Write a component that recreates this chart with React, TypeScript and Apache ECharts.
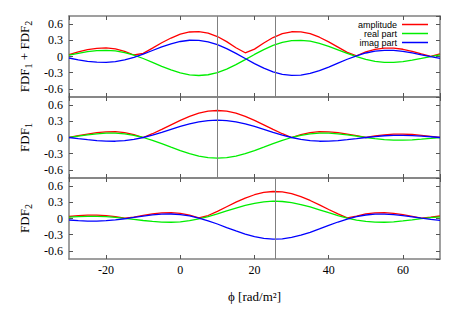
import React, { useEffect, useRef } from 'react';
import * as echarts from 'echarts';

// Faraday depth grid (rad/m^2)
const PHI = [-30, -27.5, -25, -22.5, -20, -17.5, -15, -12.5, -10, -7.5, -5, -2.5, 0, 2.5, 5, 7.5, 10, 12.5, 15, 17.5, 20, 22.5, 25, 27.5, 30, 32.5, 35, 37.5, 40, 42.5, 45, 47.5, 50, 52.5, 55, 57.5, 60, 62.5, 65, 67.5, 70];

// Panel 1: FDF1 + FDF2
const SUM_AMP = [0.037, 0.086, 0.126, 0.152, 0.158, 0.141, 0.096, 0.028, 0.058, 0.155, 0.254, 0.342, 0.413, 0.454, 0.462, 0.434, 0.370, 0.276, 0.162, 0.069, 0.137, 0.251, 0.351, 0.422, 0.458, 0.457, 0.423, 0.357, 0.272, 0.174, 0.076, 0.014, 0.085, 0.132, 0.156, 0.156, 0.134, 0.095, 0.047, 0.004, 0.047];
const SUM_RE = [0.024, 0.059, 0.089, 0.109, 0.115, 0.104, 0.073, 0.024, -0.037, -0.108, -0.182, -0.249, -0.305, -0.340, -0.352, -0.338, -0.298, -0.233, -0.151, -0.058, 0.038, 0.128, 0.205, 0.262, 0.294, 0.300, 0.283, 0.243, 0.188, 0.123, 0.057, -0.004, -0.054, -0.089, -0.107, -0.108, -0.094, -0.068, -0.035, -0.001, 0.030];
const SUM_IM = [-0.028, -0.062, -0.089, -0.106, -0.109, -0.095, -0.063, -0.015, 0.045, 0.111, 0.177, 0.235, 0.278, 0.301, 0.299, 0.272, 0.220, 0.147, 0.059, -0.037, -0.132, -0.216, -0.285, -0.331, -0.351, -0.345, -0.314, -0.262, -0.196, -0.123, -0.051, 0.013, 0.065, 0.098, 0.114, 0.112, 0.095, 0.066, 0.031, -0.004, -0.036];

// Panel 2: FDF1
const F1_AMP = [0, 0.033, 0.064, 0.091, 0.106, 0.107, 0.090, 0.054, 0, 0.070, 0.150, 0.235, 0.318, 0.392, 0.450, 0.487, 0.500, 0.487, 0.450, 0.392, 0.318, 0.235, 0.150, 0.070, 0, 0.054, 0.090, 0.107, 0.106, 0.091, 0.064, 0.033, 0, 0.029, 0.050, 0.062, 0.064, 0.056, 0.041, 0.021, 0];
const F1_RE = [0, 0.025, 0.049, 0.069, 0.081, 0.082, 0.069, 0.041, 0, -0.053, -0.115, -0.180, -0.244, -0.300, -0.344, -0.373, -0.383, -0.373, -0.344, -0.300, -0.244, -0.180, -0.115, -0.053, 0, 0.041, 0.069, 0.082, 0.081, 0.069, 0.049, 0.025, 0, -0.022, -0.038, -0.047, -0.049, -0.043, -0.031, -0.016, 0];
const F1_IM = [0, -0.021, -0.041, -0.058, -0.068, -0.069, -0.058, -0.035, 0, 0.045, 0.097, 0.152, 0.205, 0.253, 0.290, 0.314, 0.322, 0.314, 0.290, 0.253, 0.205, 0.152, 0.097, 0.045, 0, -0.035, -0.058, -0.069, -0.068, -0.058, -0.041, -0.021, 0, 0.018, 0.032, 0.040, 0.041, 0.036, 0.026, 0.014, 0];

// Panel 3: FDF2
const F2_AMP = [0.037, 0.054, 0.063, 0.063, 0.053, 0.034, 0.006, 0.026, 0.058, 0.086, 0.104, 0.108, 0.095, 0.063, 0.012, 0.055, 0.133, 0.218, 0.302, 0.378, 0.440, 0.482, 0.500, 0.492, 0.459, 0.405, 0.334, 0.252, 0.167, 0.085, 0.013, 0.045, 0.084, 0.105, 0.108, 0.095, 0.070, 0.039, 0.006, 0.023, 0.046];
const F2_RE = [0.024, 0.034, 0.040, 0.040, 0.034, 0.022, 0.004, -0.017, -0.037, -0.055, -0.067, -0.069, -0.061, -0.040, -0.008, 0.035, 0.085, 0.140, 0.193, 0.242, 0.282, 0.308, 0.320, 0.315, 0.294, 0.259, 0.214, 0.161, 0.107, 0.054, 0.008, -0.029, -0.054, -0.067, -0.069, -0.061, -0.045, -0.025, -0.004, 0.015, 0.030];
const F2_IM = [-0.028, -0.041, -0.048, -0.048, -0.041, -0.026, -0.005, 0.020, 0.045, 0.066, 0.080, 0.083, 0.073, 0.048, 0.009, -0.042, -0.102, -0.167, -0.231, -0.290, -0.337, -0.368, -0.382, -0.376, -0.351, -0.310, -0.256, -0.193, -0.128, -0.065, -0.010, 0.034, 0.065, 0.080, 0.082, 0.072, 0.054, 0.030, 0.005, -0.018, -0.036];

// Source Faraday depths (vertical markers) per panel
const VLINES = [[10, 25.5], [10], [25.5]];

const SERIES_NAMES = ['amplitude', 'real part', 'imag part'];
const COLORS = ['#ff0000', '#00ee00', '#0000ff'];
const Y_NAMES = ['{a|FDF}{s|1}{a| + FDF}{s|2}', '{a|FDF}{s|1}', '{a|FDF}{s|2}'];
const X_LABEL = 'ϕ [rad/m²]';

const SERIF = 'Liberation Serif';
const SANS = 'Liberation Sans';
const AXIS_GRAY = '#808080';
const TICK_GRAY = '#555555';

export default function App() {
  const ref = useRef<HTMLDivElement>(null);

  useEffect(() => {
    const chart = echarts.init(ref.current!, null, { renderer: 'svg' });
    const panels = [
      [SUM_AMP, SUM_RE, SUM_IM],
      [F1_AMP, F1_RE, F1_IM],
      [F2_AMP, F2_RE, F2_IM],
    ];
    const tops = [16, 97, 178];
    const grid = tops.map((t) => ({ left: 69, right: 23, top: t, height: 81, outerBoundsMode: 'none' }));
    const xAxis: any[] = [];
    const yAxis: any[] = [];
    const series: any[] = [];

    const axisLine = { show: true, onZero: false, lineStyle: { color: AXIS_GRAY, width: 1.5 } };
    const axisTick = { show: true, inside: true, length: 4, lineStyle: { color: TICK_GRAY, width: 1 } };
    const tickRich = { t: { fontFamily: SERIF, fontSize: 12, color: '#000' } };

    tops.forEach((_, g) => {
      const xc = {
        type: 'value', gridIndex: g, min: -30, max: 70, splitNumber: 5,
        splitLine: { show: false }, axisLine, axisTick,
      };
      xAxis.push({
        ...xc, position: 'bottom',
        axisLabel: {
          show: g === 2, showMinLabel: false, showMaxLabel: false, fontFamily: SERIF, fontSize: 12, color: '#000', margin: 5,
          formatter: '{t|{value}}', rich: tickRich,
        },
        name: g === 2 ? X_LABEL : '', nameLocation: 'middle', nameGap: 31,
        nameTextStyle: { fontFamily: SERIF, fontSize: 13, color: '#000' },
      });
      xAxis.push({ ...xc, position: 'top', axisLabel: { show: false } });

      const yc = {
        type: 'value', gridIndex: g, min: -0.75, max: 0.75, splitNumber: 5,
        splitLine: { show: false }, axisLine, axisTick,
      };
      yAxis.push({
        ...yc, position: 'left',
        axisLabel: {
          show: true, showMinLabel: false, showMaxLabel: false, fontFamily: SERIF, fontSize: 12, color: '#000', margin: 6,
          formatter: '{t|{value}}', rich: tickRich,
        },
        name: Y_NAMES[g], nameLocation: 'middle', nameRotate: 90, nameGap: 35,
        nameTextStyle: {
          color: '#000', fontFamily: SERIF, fontSize: 13,
          rich: {
            a: { fontFamily: SERIF, fontSize: 13, color: '#000', lineHeight: 14, verticalAlign: 'bottom', padding: [0, 0, 2, 0] },
            s: { fontFamily: SERIF, fontSize: 10, color: '#000', lineHeight: 10, verticalAlign: 'bottom' },
          },
        },
      });
      yAxis.push({ ...yc, position: 'right', axisLabel: { show: false } });

      panels[g].forEach((vals, k) => {
        const s: any = {
          type: 'line', name: SERIES_NAMES[k], xAxisIndex: 2 * g, yAxisIndex: 2 * g,
          data: PHI.map((p, i) => [p, vals[i]]),
          showSymbol: false, symbol: 'none', color: COLORS[k],
          lineStyle: { color: COLORS[k], width: 1.3 },
          emphasis: { disabled: true }, silent: true,
        };
        if (k === 0) {
          s.markLine = {
            silent: true, symbol: ['none', 'none'], label: { show: false },
            lineStyle: { color: AXIS_GRAY, width: 1, type: 'solid' },
            emphasis: { disabled: true },
            data: VLINES[g].map((v) => ({ xAxis: v })),
          };
        }
        series.push(s);
      });
    });

    chart.setOption({
      animation: false,
      backgroundColor: '#fff',
      textStyle: { fontFamily: SERIF },
      grid, xAxis, yAxis, series,
      legend: {
        data: SERIES_NAMES, orient: 'vertical', right: 35, top: 20, align: 'right',
        icon: 'rect', itemWidth: 26, itemHeight: 1.5, itemGap: 0, padding: 0,
        selectedMode: false,
        textStyle: { fontFamily: SANS, fontSize: 9, color: '#000', lineHeight: 9 },
      },
    });
    return () => chart.dispose();
  }, []);

  return <div ref={ref} style={{ position: 'fixed', left: 0, top: 0, width: 463, height: 324, background: '#fff' }} />;
}
